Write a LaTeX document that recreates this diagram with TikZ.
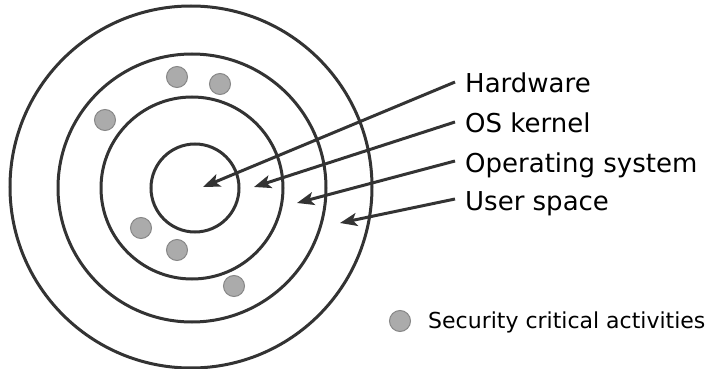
\documentclass[tikz,border=0pt]{standalone}
\usepackage{fontspec}
\setmainfont{DejaVu Sans}
\usetikzlibrary{arrows.meta}
\begin{document}
\begin{tikzpicture}[x=1pt, y=-1pt, >={Stealth[length=17pt,width=13pt,inset=4pt]},
  ring/.style={draw=black!80, line width=3pt, circle, inner sep=0pt},
  activity/.style={circle, fill=black!33, draw=black!47, line width=1pt, minimum size=21pt, inner sep=0pt},
  layer/.style={anchor=base west, inner xsep=10pt, inner ysep=0pt, text height=22pt, text depth=0pt, font=\fontsize{26}{30}\selectfont},
  pointer/.style={->, draw=black!80, line width=3pt}]
\useasboundingbox (0,0) rectangle (724,369);
% rings
\node[ring, minimum size=362pt] (user) at (191,187) {};
\node[ring, minimum size=268pt] (os) at (192,188) {};
\node[ring, minimum size=182pt] (kern) at (192,188) {};
\node[ring, minimum size=88pt] (hw) at (195,188) {};
% security critical activities
\node[activity] (a1) at (177,77) {};
\node[activity] (a2) at (220,84) {};
\node[activity] (a3) at (105,120) {};
\node[activity] (a4) at (141,228) {};
\node[activity] (a5) at (177,250) {};
\node[activity] (a6) at (234,286) {};
% labels
\node[layer] (hwl) at (455,93) {Hardware};
\node[layer] (kernl) at (455,133) {OS kernel};
\node[layer] (osl) at (455,172) {Operating system};
\node[layer] (userl) at (455,210) {User space};
\coordinate (hwtip) at (203,187);
\coordinate (kerntip) at (254,187);
\coordinate (ostip) at (297,203);
\coordinate (usertip) at (340,223);
\draw[pointer] (hwl.west) -- (hwtip);
\draw[pointer] (kernl.west) -- (kerntip);
\draw[pointer] (osl.west) -- (ostip);
\draw[pointer] (userl.west) -- (usertip);
% legend
\node[activity] (key) at (400,321) {};
\node[anchor=base west, inner sep=0pt, font=\fontsize{22}{26}\selectfont] (keyl) at (428,328) {Security critical activities};
\end{tikzpicture}
\end{document}
